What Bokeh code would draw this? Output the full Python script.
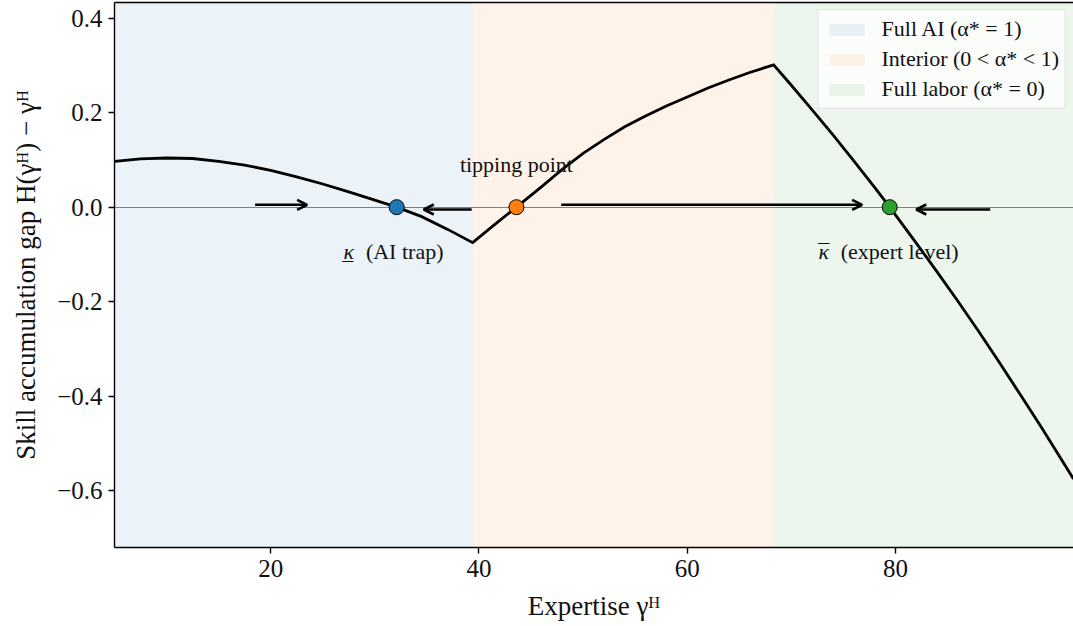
from bokeh.plotting import figure
from bokeh.models import (Range1d, FixedTicker, LinearAxis, Legend, LegendItem,
                          Arrow, OpenHead, ColumnDataSource)
from bokeh.core.properties import value
from bokeh.embed import file_html
from bokeh.resources import INLINE

# Skill accumulation gap H(γ^H) − γ^H against expertise γ^H
gap_x = [5.0, 7.5, 10.0, 12.5, 15.0, 17.5, 20.0, 22.5, 25.0, 27.5, 30.0, 32.1,
         34.5, 37.0, 39.4,
         41.5, 43.6, 46.0, 48.0, 50.0, 52.0, 54.0, 56.0, 58.0, 60.0, 62.0, 64.0, 66.0, 68.3,
         70.0, 72.0, 74.0, 76.0, 78.0, 79.45, 82.0, 84.0, 86.0, 88.0, 90.0, 92.0, 94.0, 96.0, 97.1]
gap_y = [0.097, 0.102, 0.104, 0.103, 0.097, 0.089, 0.078, 0.064, 0.049, 0.0325, 0.015, 0.0,
         -0.020, -0.047, -0.075,
         -0.037, 0.0, 0.043, 0.080, 0.114, 0.143, 0.170, 0.193, 0.214, 0.233, 0.252, 0.269, 0.285, 0.301,
         0.258, 0.206, 0.153, 0.098, 0.042, 0.0, -0.076, -0.137, -0.199, -0.263, -0.329, -0.397, -0.465, -0.536, -0.575]

# Regimes of the optimal AI share α*
regime_names = ["Full AI (α* = 1)", "Interior (0 < α* < 1)", "Full labor (α* = 0)"]
regime_start = [5.0, 39.4, 68.3]
regime_end = [39.4, 68.3, 100.0]
regime_colors = ["#1f77b4", "#ff7f0e", "#2ca02c"]

# Steady states: AI trap, tipping point, expert level
fixed_x = [32.1, 43.6, 79.45]
fixed_y = [0.0, 0.0, 0.0]
fixed_colors = ["#1f77b4", "#ff7f0e", "#2ca02c"]

# Direction of motion along the expertise axis
flow_x_start = [18.5, 39.3, 47.9, 89.1]
flow_x_end = [23.5, 34.7, 76.8, 82.0]
flow_y = [0.005, -0.005, 0.005, -0.005]

x_ticks = [20, 40, 60, 80]
y_ticks = [-0.6, -0.4, -0.2, 0.0, 0.2, 0.4]
y_tick_labels = ["−0.6", "−0.4", "−0.2", "0.0", "0.2", "0.4"]

X_LO, X_HI = 5.0, 97.1
Y_LO, Y_HI = -0.72, 0.433

FONT = "Liberation Serif"
INK = "#111111"

p = figure(frame_width=959, frame_height=545,
           min_border_left=114, min_border_right=0, min_border_top=2, min_border_bottom=79,
           x_range=Range1d(X_LO, X_HI), y_range=Range1d(Y_LO, Y_HI),
           output_backend="svg", toolbar_location=None,
           background_fill_color="white", border_fill_color="white")
p.outline_line_color = None
p.xgrid.visible = False
p.ygrid.visible = False

# shaded regimes
regime_renderers = []
for i in range(len(regime_names)):
    r = p.quad(left=[regime_start[i]], right=[regime_end[i]], bottom=[Y_LO - 1], top=[Y_HI + 1],
               fill_color=regime_colors[i], fill_alpha=0.09, line_color=None)
    regime_renderers.append(r)

# zero line
p.hspan(y=[0.0], line_color="#808080", line_width=1)

# gap curve
p.line(gap_x, gap_y, line_color="black", line_width=2.8, line_join="miter")

# flow arrows
flow_src = ColumnDataSource(dict(xs=flow_x_start, xe=flow_x_end, y=flow_y))
p.add_layout(Arrow(end=OpenHead(size=10, line_width=2.6, line_color="black"),
                   x_start="xs", y_start="y", x_end="xe", y_end="y",
                   line_width=2.6, line_color="black", source=flow_src))

# steady states
p.scatter(fixed_x, fixed_y, size=15, fill_color=fixed_colors, line_color="black", line_width=1)

# labels
label_font = dict(text_font=value(FONT), text_font_size="22px", text_color=INK,
                  text_baseline="alphabetic", text_align="center")
p.text(x=[fixed_x[1]], y=[fixed_y[1]], text=["tipping point"], y_offset=-43, **label_font)
p.text(x=[fixed_x[0], fixed_x[2]], y=[fixed_y[0], fixed_y[2]], text=["κ", "κ"],
       x_offset=[-48, -66], y_offset=44, text_font_style="italic", **label_font)
# lower bar marks the trap, upper bar the expert level
p.text(x=[fixed_x[0], fixed_x[2]], y=[fixed_y[0], fixed_y[2]], text=["_", "¯"],
       x_offset=[-49, -66], y_offset=[44, 44], **label_font)
p.text(x=[fixed_x[0], fixed_x[2]], y=[fixed_y[0], fixed_y[2]], text=["(AI trap)", "(expert level)"],
       x_offset=[8, 10], y_offset=44, **label_font)

# axes
for ax in (p.xaxis[0], p.yaxis[0]):
    ax.axis_line_color = "black"
    ax.axis_line_width = 1.4
    ax.major_tick_line_width = 1.4
    ax.major_tick_out = 6
    ax.major_tick_in = 0
    ax.minor_tick_line_color = None
    ax.major_label_text_font = FONT
    ax.major_label_text_font_size = "25px"
    ax.major_label_text_color = INK
    ax.major_label_standoff = 6
    ax.axis_label_text_font = FONT
    ax.axis_label_text_font_size = "27px"
    ax.axis_label_text_font_style = "normal"
    ax.axis_label_text_color = INK

p.xaxis.ticker = FixedTicker(ticks=x_ticks)
p.yaxis.ticker = FixedTicker(ticks=y_ticks)
p.yaxis.major_label_overrides = dict(zip(y_ticks, y_tick_labels))
p.xaxis.axis_label = "Expertise γᴴ"
p.yaxis.axis_label = "Skill accumulation gap H(γᴴ) − γᴴ"
p.xaxis.axis_label_standoff = 11
p.yaxis.axis_label_standoff = 13

top = LinearAxis(ticker=FixedTicker(ticks=[]), major_tick_out=0, major_tick_in=0,
                 major_label_standoff=0, major_label_text_font_size="0px",
                 axis_line_color="black", axis_line_width=1.4, minor_tick_line_color=None)
p.add_layout(top, "above")

legend = Legend(items=[LegendItem(label=regime_names[i], renderers=[regime_renderers[i]])
                       for i in range(len(regime_names))],
                location="top_right", label_text_font=FONT, label_text_font_size="22px",
                label_text_color=INK, glyph_width=44, glyph_height=15, label_standoff=13,
                spacing=4, padding=6, margin=7, border_line_color="#cccccc", border_line_width=1,
                background_fill_alpha=0.8)
p.add_layout(legend)

open("out.html", "w").write(file_html(p, INLINE))
